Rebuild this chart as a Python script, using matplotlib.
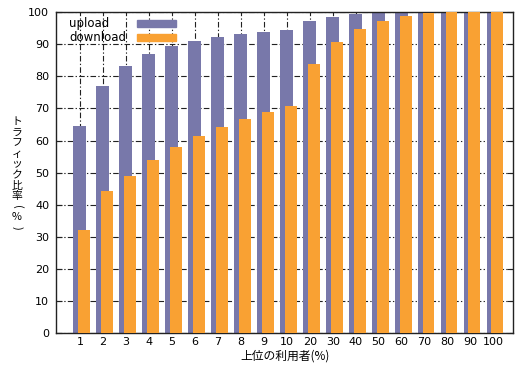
import numpy as np
import matplotlib.pyplot as plt
from matplotlib.patches import Rectangle

plt.rcParams['font.family'] = ['DejaVu Sans', 'Noto Sans CJK JP']

categories = ['1', '2', '3', '4', '5', '6', '7', '8', '9', '10',
              '20', '30', '40', '50', '60', '70', '80', '90', '100']
upload = [64.5, 76.9, 83.2, 86.9, 89.4, 91.0, 92.2, 93.1, 93.8, 94.4,
          97.2, 98.4, 99.4, 99.7, 100, 100, 100, 100, 100]
download = [32.1, 44.2, 48.9, 53.9, 57.9, 61.4, 64.2, 66.7, 68.8, 70.7,
            83.8, 90.7, 94.7, 97.2, 98.8, 99.7, 100, 100, 100]

up_color = '#7878aa'
down_color = '#f9a133'

fig = plt.figure(figsize=(5.3, 3.7), dpi=100)
ax = fig.add_axes([0.106, 0.1, 0.862, 0.867])

x = np.arange(len(categories))
ax.bar(x - 0.02, upload, width=0.56, color=up_color, zorder=2)
ax.bar(x + 0.17, download, width=0.52, color=down_color, zorder=3)

ax.set_xlim(-1.04, 18.85)
ax.set_ylim(0, 100)
ax.set_yticks(range(0, 101, 10))
ax.set_xticks(x)
ax.set_xticklabels(categories)
ax.tick_params(axis='both', labelsize=8, direction='in', color='#222222')
ax.tick_params(axis='x', length=0, pad=3)
ax.tick_params(axis='y', right=True, length=4, pad=5)

ax.set_axisbelow(True)
ax.grid(True, color='#222222', linewidth=0.8, dashes=(5, 2, 1.2, 2))
for s in ax.spines.values():
    s.set_linewidth(1.0)
    s.set_color('#222222')

ax.set_xlabel('上位の利用者(%)', fontsize=8.5, labelpad=2,
              family=['Noto Sans CJK JP', 'DejaVu Sans'])

# vertical (tategaki) y label, one glyph per line
ylab = ['ト', 'ラ', 'フ', 'ィ', 'ッ', 'ク', '比', '率', '(', '%', ')']
for i, ch in enumerate(ylab):
    yy = 1 - (122 + i * 10.6) / 370
    rot = -90 if ch in '()' else 0
    fig.text(17 / 530, yy, ch, fontsize=7.8, ha='center', va='center',
             rotation=rot, family=['Noto Sans CJK JP', 'DejaVu Sans'])

# gnuplot-style key: text first, sample box after
keys = [('upload', up_color, 0.966), ('download', down_color, 0.922)]
for name, col, ky in keys:
    ax.text(0.028, ky, name, transform=ax.transAxes, fontsize=8.5,
            ha='left', va='center', zorder=5)
    ax.add_patch(Rectangle((0.177, ky - 0.011), 0.085, 0.022,
                           transform=ax.transAxes, color=col, zorder=5,
                           clip_on=False))

fig.savefig('out.png', dpi=100)
